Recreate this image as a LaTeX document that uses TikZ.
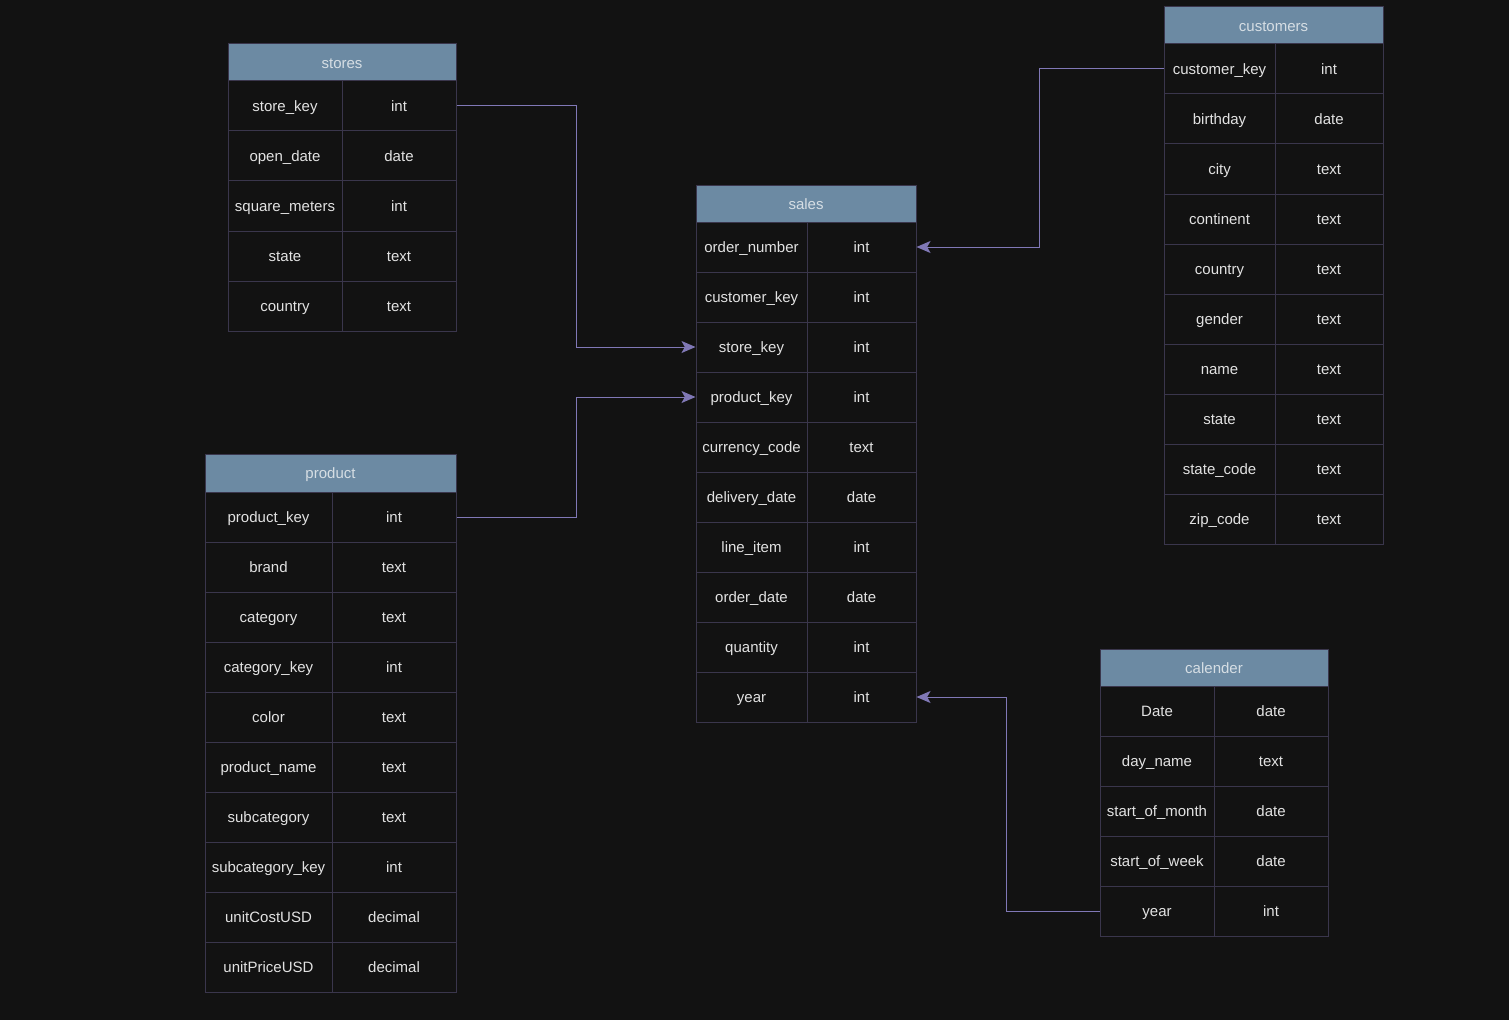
\documentclass[tikz,border=0pt]{standalone}
\usepackage{fontspec}
\setmainfont{Liberation Sans}
\usetikzlibrary{arrows.meta}
\definecolor{bgdark}{RGB}{18,18,18}
\definecolor{gridline}{RGB}{58,54,76}
\definecolor{hdrblue}{RGB}{108,138,163}
\definecolor{celltext}{RGB}{226,226,226}
\definecolor{hdrtext}{RGB}{214,222,228}
\definecolor{linkline}{RGB}{128,120,182}
\tikzset{every picture/.style={line width=0.75pt}}
\tikzset{
  cell/.style={draw=gridline, fill=bgdark, text=celltext, inner sep=0pt,
    minimum height=37.5pt, text height=11.2pt, text depth=2.4pt,
    font=\fontsize{11.25}{13}\selectfont},
  hdr/.style={draw=gridline, fill=hdrblue, text=hdrtext, inner sep=0pt,
    minimum height=27.75pt, text height=11.2pt, text depth=2.4pt,
    font=\fontsize{11.25}{13}\selectfont},
  link/.style={draw=linkline, -{Stealth[length=10.5pt,width=9pt,inset=2.5pt]}}
}

\begin{document}
\begin{tikzpicture}[x=0.75pt,y=0.75pt,yscale=-1,xscale=1]
%set diagram left start at 0, and has height of 1020
\fill[bgdark] (0,0) rectangle (1509,1020);
\useasboundingbox (0,0) rectangle (1509,1020);

%Table: stores
\node[hdr, minimum width=228*0.75pt] (stores-h) at (342,62.5) {stores};
\foreach \k/\t [count=\i] in {store\_key/int, open\_date/date, square\_meters/int, state/text, country/text} {
  \node[cell, minimum width=114*0.75pt] (stores-k\i) at (285,{56+50*\i}) {\k};
  \node[cell, minimum width=114*0.75pt] (stores-t\i) at (399,{56+50*\i}) {\t};
}

%Table: sales
\node[hdr, minimum width=220*0.75pt] (sales-h) at (806,203.5) {sales};
\foreach \k/\t [count=\i] in {order\_number/int, customer\_key/int, store\_key/int, product\_key/int, currency\_code/text, delivery\_date/date, line\_item/int, order\_date/date, quantity/int, year/int} {
  \node[cell, minimum width=111*0.75pt] (sales-k\i) at (751.5,{197+50*\i}) {\k};
  \node[cell, minimum width=109*0.75pt] (sales-t\i) at (861.5,{197+50*\i}) {\t};
}

%Table: customers
\node[hdr, minimum width=219*0.75pt] (customers-h) at (1273.5,25.5) {customers};
\foreach \k/\t [count=\i] in {customer\_key/int, birthday/date, city/text, continent/text, country/text, gender/text, name/text, state/text, state\_code/text, zip\_code/text} {
  \node[cell, minimum width=111*0.75pt] (customers-k\i) at (1219.5,{19+50*\i}) {\k};
  \node[cell, minimum width=108*0.75pt] (customers-t\i) at (1329,{19+50*\i}) {\t};
}

%Table: product
\node[hdr, minimum width=251*0.75pt, minimum height=38*0.75pt] (product-h) at (330.5,473) {product};
\foreach \k/\t [count=\i] in {product\_key/int, brand/text, category/text, category\_key/int, color/text, product\_name/text, subcategory/text, subcategory\_key/int, unitCostUSD/decimal, unitPriceUSD/decimal} {
  \node[cell, minimum width=127*0.75pt] (product-k\i) at (268.5,{467+50*\i}) {\k};
  \node[cell, minimum width=124*0.75pt] (product-t\i) at (394,{467+50*\i}) {\t};
}

%Table: calender
\node[hdr, minimum width=228*0.75pt] (calender-h) at (1214,667.5) {calender};
\foreach \k/\t [count=\i] in {Date/date, day\_name/text, start\_of\_month/date, start\_of\_week/date, year/int} {
  \node[cell, minimum width=114*0.75pt] (calender-k\i) at (1157,{661+50*\i}) {\k};
  \node[cell, minimum width=114*0.75pt] (calender-t\i) at (1271,{661+50*\i}) {\t};
}

%Connectors
\draw[link] (stores-t1.east) -- ++(120,0) |- (sales-k3.west);
\draw[link] (product-t1.east) -- ++(120,0) |- (sales-k4.west);
\draw[link] (customers-k1.west) -- ++(-124,0) |- (sales-t1.east);
\draw[link] (calender-k5.west) -- ++(-93,0) |- (sales-t10.east);
\end{tikzpicture}
\end{document}
